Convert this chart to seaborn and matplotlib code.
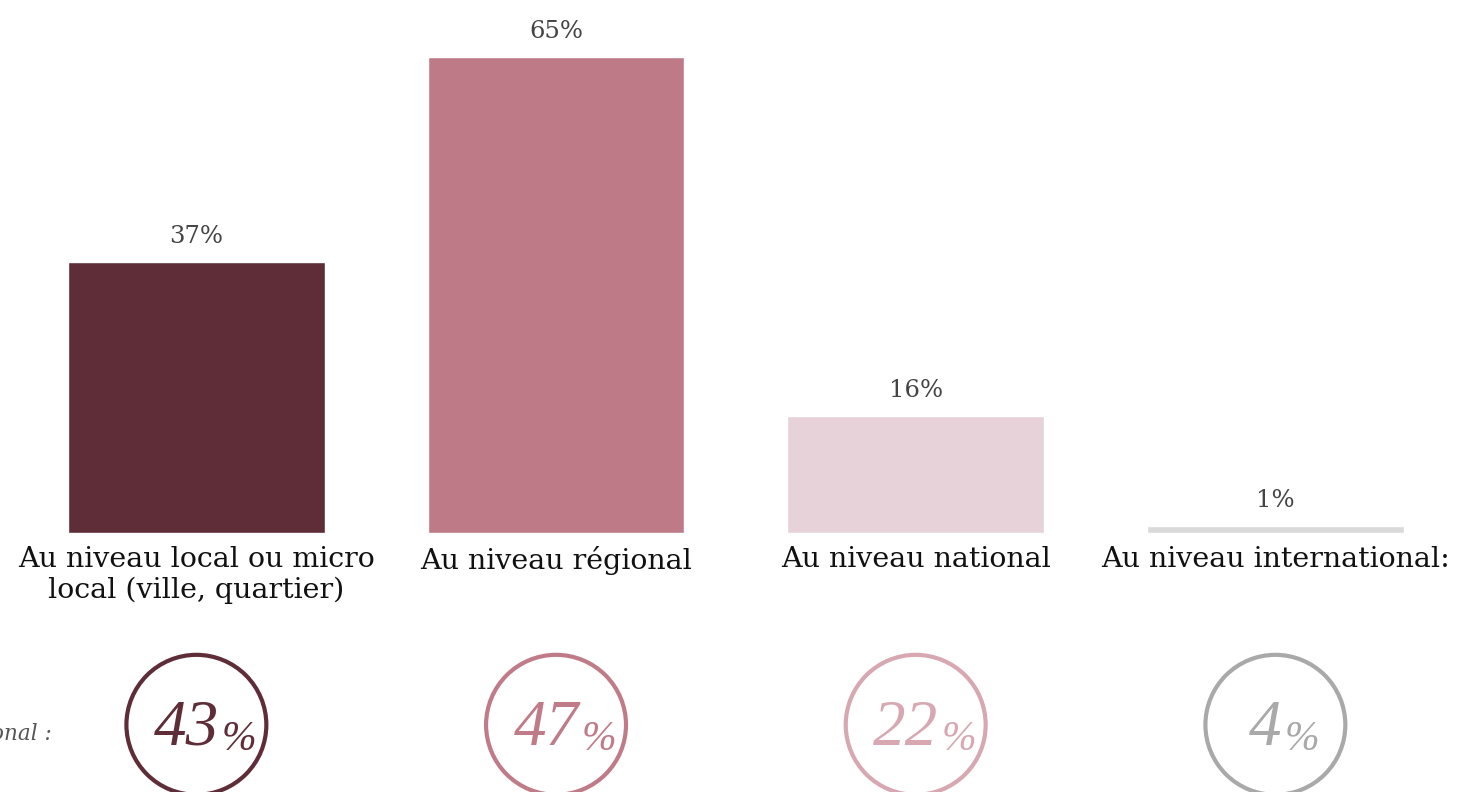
import matplotlib
matplotlib.use("Agg")
import matplotlib.pyplot as plt
import seaborn as sns
import pandas as pd

# Data
categories = [
    "Au niveau local ou micro\nlocal (ville, quartier)",
    "Au niveau régional",
    "Au niveau national",
    "Au niveau international:",
]
bar_values = [37, 65, 16, 1]
national_values = [43, 47, 22, 4]
national_label = "Résultat national :"

bar_colors = ["#5f2d38", "#bf7a88", "#e8d2d9", "#d9d9d9"]
ring_colors = ["#5f2d38", "#c07b88", "#d8a8b2", "#a9a9a9"]

sns.set_theme(style="white")
plt.rcParams["font.family"] = ["DejaVu Serif"]

W, H, DPI = 1457, 792, 100
fig = plt.figure(figsize=(W / DPI, H / DPI), dpi=DPI)
ax = fig.add_axes([0, 0, 1, 1])

df = pd.DataFrame({"cat": categories, "val": bar_values})
sns.barplot(data=df, x="cat", y="val", hue="cat", palette=bar_colors,
            width=0.714, legend=False, ax=ax, saturation=1)

ax.set_xlim(-0.546, 3.505)
ax.set_ylim(-35.38, 72.81)
ax.set_axis_off()

for i, v in enumerate(bar_values):
    ax.annotate(f"{v}%", xy=(i, v), xytext=(0, 19), textcoords="offset pixels",
                ha="center", va="baseline", fontsize=17.5, color="#444444")
    ax.annotate(categories[i], xy=(i, 0), xytext=(0, -13), textcoords="offset pixels",
                ha="center", va="top", fontsize=20.5, color="#111111",
                linespacing=1.15)

# Ring row with the national figures
ring_y = -26.2
ring_x = list(range(len(national_values)))
sns.scatterplot(x=ring_x, y=[ring_y] * len(ring_x), ax=ax, s=10150,
                marker="o", legend=False, clip_on=False)
coll = ax.collections[-1]
coll.set_facecolor("none")
coll.set_edgecolor(ring_colors)
coll.set_linewidth(3.0)

for i, v in enumerate(national_values):
    num = ax.annotate(f"{v}", xy=(i, ring_y), xytext=(-10, -20), textcoords="offset pixels",
                      ha="center", va="baseline", fontsize=47, style="italic",
                      color=ring_colors[i], family=["Liberation Serif"])
    ax.annotate("%", xy=(1, 0), xycoords=num, xytext=(3, 0), textcoords="offset pixels",
                ha="left", va="bottom", fontsize=30, style="italic",
                color=ring_colors[i], family=["Liberation Serif"])

ax.annotate(national_label, xy=(-0.546, ring_y), xytext=(52, -15), textcoords="offset pixels",
            ha="right", va="baseline", fontsize=15.5, style="italic", color="#555555")

fig.savefig("out.png", dpi=DPI, facecolor="white")
